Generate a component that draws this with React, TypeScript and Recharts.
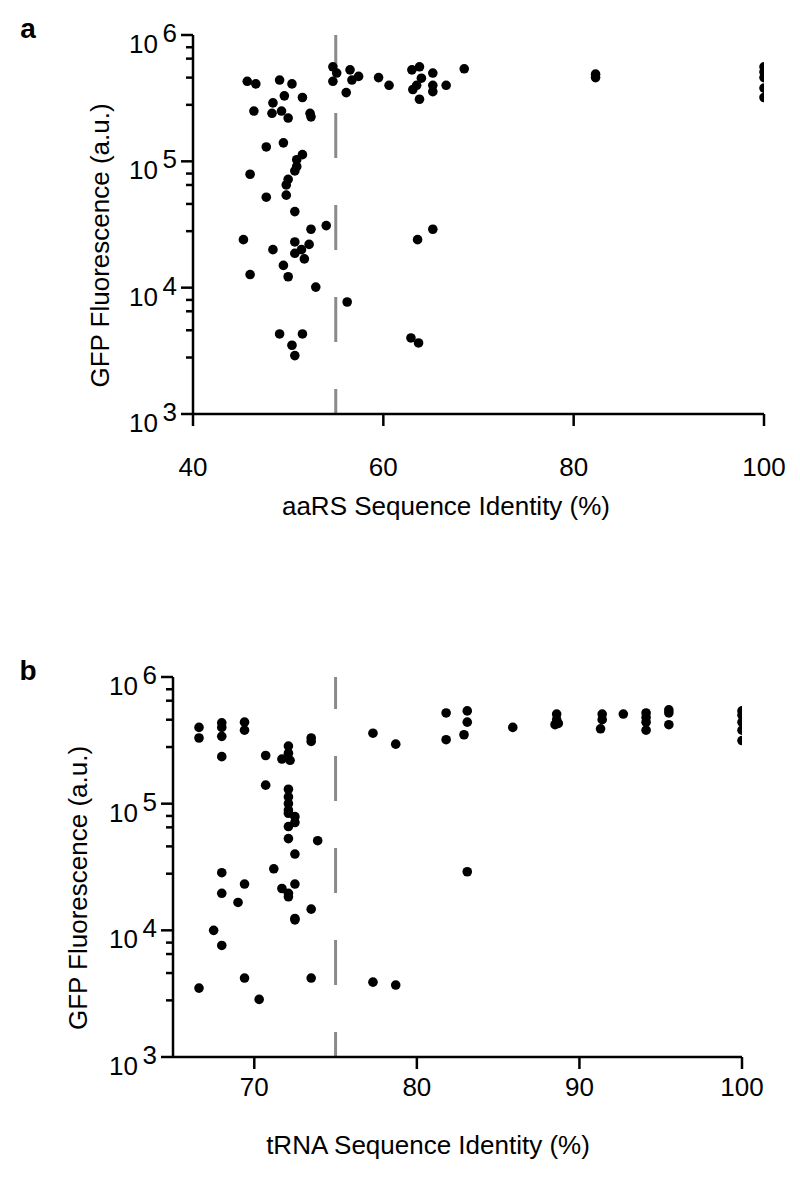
import {
  ScatterChart,
  Scatter,
  XAxis,
  YAxis,
  ReferenceLine,
  Label,
} from "recharts";

// panel a: aaRS identity (%) vs GFP fluorescence (a.u.)
const aaRsIdentity = [
  45.7, 46.6, 49.1, 50.4, 49.6, 51.5, 48.4, 46.4, 48.3, 49.3, 50.0, 52.3, 52.4,
  47.7, 49.5, 51.5, 50.9, 50.9, 50.7, 46.0, 50.0, 49.8, 47.7, 49.8, 50.7, 52.4,
  54.0, 45.3, 48.4, 50.7, 52.2, 51.4, 50.7, 51.7, 49.5, 46.0, 50.0, 52.9, 49.1,
  51.5, 50.4, 50.7, 56.2, 63.6, 65.2, 62.9, 63.7, 54.7, 55.1, 54.7, 56.5, 56.7,
  57.4, 56.1, 59.5, 60.6, 63.0, 63.8, 63.1, 63.8, 64.0, 65.2, 65.2, 65.2, 66.6,
  68.5, 82.3, 82.3, 100, 100, 100, 100, 100, 63.5,
];
const aaRsGfp = [
  4.3e5, 4.1e5, 4.4e5, 4.1e5, 3.3e5, 3.2e5, 2.9e5, 2.5e5, 2.4e5, 2.5e5, 2.2e5,
  2.4e5, 2.25e5, 1.3e5, 1.4e5, 1.13e5, 1.03e5, 9.1e4, 8.4e4, 7.9e4, 7.2e4,
  6.5e4, 5.2e4, 5.4e4, 4.0e4, 2.9e4, 3.1e4, 2.4e4, 2.0e4, 2.3e4, 2.2e4, 2.0e4,
  1.87e4, 1.69e4, 1.5e4, 1.27e4, 1.22e4, 1.01e4, 4.3e3, 4.3e3, 3.5e3, 2.9e3,
  7.7e3, 2.4e4, 2.9e4, 4.0e3, 3.65e3, 5.6e5, 5.0e5, 4.3e5, 5.3e5, 4.4e5, 4.7e5,
  3.5e5, 4.6e5, 4.0e5, 5.3e5, 5.6e5, 3.7e5, 3.1e5, 4.55e5, 5.0e5, 4.0e5,
  3.56e5, 4.0e5, 5.4e5, 4.9e5, 4.6e5, 5.6e5, 5.1e5, 4.6e5, 3.8e5, 3.2e5, 4.0e5,
];

// panel b: tRNA identity (%) vs GFP fluorescence (a.u.)
const trnaIdentity = [
  66.6, 66.6, 68.0, 68.0, 68.0, 69.4, 69.4, 68.0, 70.7, 70.7, 72.1, 72.1, 71.7,
  72.2, 73.5, 73.5, 77.3, 72.1, 72.1, 72.1, 72.1, 72.1, 72.5, 72.5, 72.1, 72.1,
  73.9, 72.5, 68.0, 71.2, 69.4, 68.0, 69.0, 71.7, 72.5, 72.1, 72.1, 73.5, 72.5,
  72.5, 67.5, 68.0, 69.4, 73.5, 77.3, 66.6, 70.3, 78.7, 83.1, 78.7, 81.8, 81.8,
  83.1, 83.1, 82.9, 85.9, 88.6, 88.6, 88.5, 88.7, 91.4, 91.4, 91.3, 92.7, 94.1,
  94.1, 94.1, 94.1, 95.5, 95.5, 95.5, 100, 100, 100, 100, 100,
];
const trnaGfp = [
  4.0e5, 3.3e5, 4.35e5, 4.0e5, 3.4e5, 4.4e5, 3.8e5, 2.35e5, 2.4e5, 1.4e5,
  2.85e5, 2.5e5, 2.25e5, 2.2e5, 3.3e5, 3.1e5, 3.6e5, 1.3e5, 1.13e5, 1.0e5,
  8.9e4, 8.4e4, 7.9e4, 7.1e4, 6.6e4, 5.3e4, 5.1e4, 4.0e4, 2.85e4, 3.06e4,
  2.32e4, 1.96e4, 1.66e4, 2.14e4, 2.32e4, 1.96e4, 1.84e4, 1.47e4, 1.24e4,
  1.21e4, 1.0e4, 7.6e3, 4.2e3, 4.2e3, 3.9e3, 3.5e3, 2.85e3, 3.7e3, 2.9e4,
  2.95e5, 5.2e5, 3.2e5, 5.4e5, 4.4e5, 3.5e5, 4.0e5, 5.1e5, 4.6e5, 4.2e5,
  4.3e5, 5.1e5, 4.6e5, 3.9e5, 5.1e5, 5.2e5, 4.8e5, 4.4e5, 3.8e5, 5.5e5, 5.2e5,
  4.2e5, 5.4e5, 5.0e5, 4.4e5, 3.8e5, 3.15e5,
];

const gfpTicks = [
  1e3, 2.8e3, 4.6e3, 6.5e3, 8e3,
  1e4, 2.8e4, 4.6e4, 6.5e4, 8e4,
  1e5, 2.8e5, 4.6e5, 6.5e5, 8e5,
  1e6,
];
const aaRsTicks = [40, 60, 80, 100];
const trnaTicks = [70, 80, 90, 100];

const FONT = "'Liberation Sans', Arial, Helvetica, sans-serif";
const FS = 26;

const Dot = (p: any) => <circle cx={p.cx} cy={p.cy} r={4.8} fill="#000" />;

const LogTick = (props: any) => {
  const { x, y, payload } = props;
  const lg = Math.log10(payload.value);
  const exp = Math.round(lg);
  const major = Math.abs(lg - exp) < 1e-6;
  return (
    <g>
      <line x1={x - (major ? 12 : 7)} x2={x} y1={y} y2={y} stroke="#000" strokeWidth={2.5} />
      {major && (
        <>
          <text x={x - 35} y={y + 9} textAnchor="end" dominantBaseline="central" fontSize={FS} fill="#000" fontFamily={FONT}>
            10
          </text>
          <text x={x - 16} y={y - 2} textAnchor="end" dominantBaseline="central" fontSize={FS} fill="#000" fontFamily={FONT}>
            {exp}
          </text>
        </>
      )}
    </g>
  );
};

type PanelProps = {
  letter: string;
  xs: number[];
  ys: number[];
  xDomain: [number, number];
  xTicks: number[];
  cutoff: number;
  xTitle: string;
  plotLeft: number;
  plotRight: number;
  plotTop: number;
  plotBottom: number;
  tickGap: number;
  xTitleX: number;
  xTitleY: number;
  yTitleX: number;
};

function Panel(p: PanelProps) {
  const H = 590;
  const xAxisH = 60;
  const data = p.xs.map((x, i) => ({ x, y: p.ys[i] }));
  return (
    <ScatterChart
      width={800}
      height={H}
      margin={{ top: p.plotTop, right: 800 - p.plotRight, left: 0, bottom: H - p.plotBottom - xAxisH }}
    >
      <XAxis
        type="number"
        dataKey="x"
        domain={p.xDomain}
        ticks={p.xTicks}
        allowDataOverflow
        height={xAxisH}
        axisLine={{ stroke: "#000", strokeWidth: 2.5 }}
        tickLine={{ stroke: "#000", strokeWidth: 2.5 }}
        tickSize={12}
        tickMargin={p.tickGap}
        tick={{ fill: "#000", fontSize: FS, fontFamily: FONT }}
      >
        <Label
          content={() => (
            <text x={p.xTitleX} y={p.xTitleY} textAnchor="middle" dominantBaseline="central" fontSize={FS} fill="#000" fontFamily={FONT}>
              {p.xTitle}
            </text>
          )}
        />
      </XAxis>
      <YAxis
        type="number"
        dataKey="y"
        scale="log"
        domain={[1e3, 1e6]}
        ticks={gfpTicks}
        allowDataOverflow
        width={p.plotLeft}
        axisLine={{ stroke: "#000", strokeWidth: 2.5 }}
        tickLine={false}
        tickSize={0}
        tickMargin={0}
        interval={0}
        tick={<LogTick />}
      >
        <Label
          content={() => {
            const cy = (p.plotTop + p.plotBottom) / 2 + 21;
            return (
              <g>
                <text x={28} y={p.plotTop - 7} textAnchor="middle" dominantBaseline="central" fontSize={28} fontWeight="bold" fill="#000" fontFamily={FONT}>
                  {p.letter}
                </text>
                <text
                  x={p.yTitleX}
                  y={cy}
                  transform={`rotate(-90 ${p.yTitleX} ${cy})`}
                  textAnchor="middle"
                  dominantBaseline="central"
                  fontSize={FS}
                  fill="#000"
                  fontFamily={FONT}
                >
                  GFP Fluorescence (a.u.)
                </text>
              </g>
            );
          }}
        />
      </YAxis>
      <ReferenceLine
        x={p.cutoff}
        stroke="#8a8a8a"
        strokeWidth={3}
        strokeDasharray="45 47"
        strokeDashoffset={20}
      />
      <Scatter data={data} shape={Dot} isAnimationActive={false} />
    </ScatterChart>
  );
}

export default function App() {
  return (
    <div style={{ position: "absolute", left: 0, top: 0, width: 800, height: 1180, background: "#fff", fontFamily: FONT }}>
      <div style={{ position: "absolute", left: 0, top: 0 }}>
        <Panel
          letter="a"
          xs={aaRsIdentity}
          ys={aaRsGfp}
          xDomain={[40, 100]}
          xTicks={aaRsTicks}
          cutoff={55}
          xTitle="aaRS Sequence Identity (%)"
          plotLeft={193}
          plotRight={764}
          plotTop={35}
          plotBottom={414}
          tickGap={32}
          xTitleX={446}
          xTitleY={506}
          yTitleX={100}
        />
      </div>
      <div style={{ position: "absolute", left: 0, top: 590 }}>
        <Panel
          letter="b"
          xs={trnaIdentity}
          ys={trnaGfp}
          xDomain={[65, 100]}
          xTicks={trnaTicks}
          cutoff={75}
          xTitle="tRNA Sequence Identity (%)"
          plotLeft={173}
          plotRight={742}
          plotTop={87}
          plotBottom={467}
          tickGap={9}
          xTitleX={428}
          xTitleY={555}
          yTitleX={78}
        />
      </div>
    </div>
  );
}
